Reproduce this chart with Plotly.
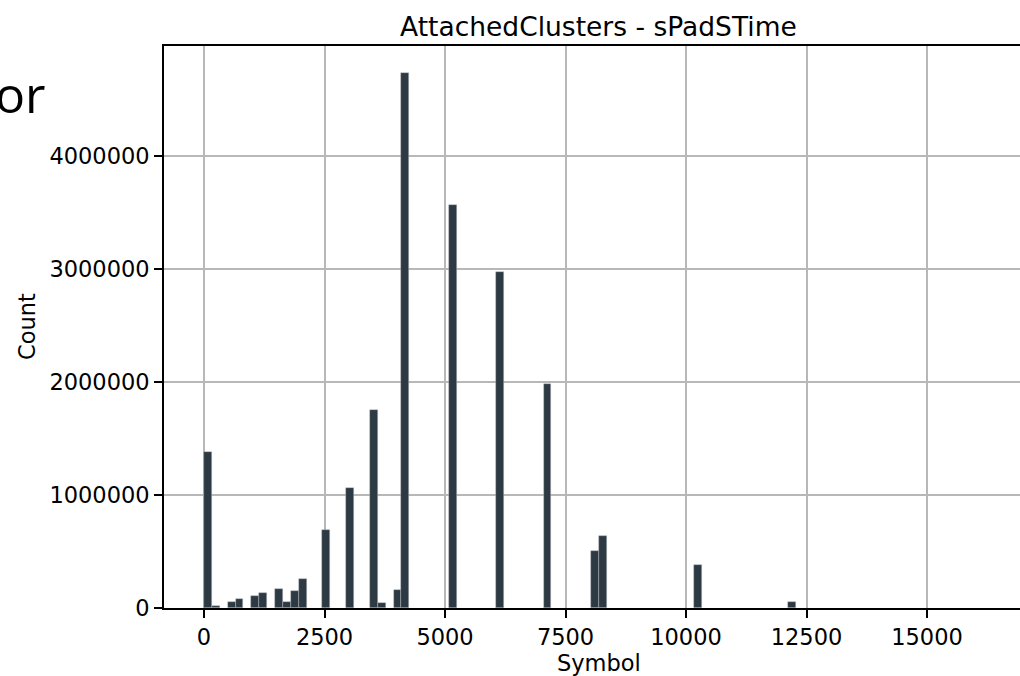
import plotly.graph_objects as go

# ---- data ----
bin_width = 163.84          # 100 bins over 0..16384
bin_index = [0, 1, 3, 4, 6, 7, 9, 10, 11, 12, 15, 18, 21, 22, 24, 25, 31, 37, 43, 49, 50, 62, 74]
counts = [1383000, 20000, 53000, 80000, 106000, 130000, 165000, 53000, 153000, 254000,
          688000, 1065000, 1750000, 42000, 162000, 4735000, 3570000, 2975000, 1985000,
          502000, 641000, 381000, 53000]
x_ticks = [0, 2500, 5000, 7500, 10000, 12500, 15000]
y_ticks = [0, 1000000, 2000000, 3000000, 4000000]

title_text = "AttachedClusters - sPadSTime"
x_label = "Symbol"
y_label = "Count"

bin_left = [i * bin_width for i in bin_index]

FONT = "DejaVu Sans"
fig = go.Figure()
fig.add_trace(go.Bar(
    x=bin_left, y=counts, width=bin_width, offset=0,
    marker=dict(color="#2d3a43", line=dict(color="rgba(190,195,200,0.7)", width=0.6)),
    hoverinfo="x+y",
))

fig.update_layout(
    width=1020, height=676,
    margin=dict(l=164, r=0, t=46, b=68),
    paper_bgcolor="white", plot_bgcolor="white",
    showlegend=False,
    font=dict(family=FONT, size=22.5, color="black"),
    bargap=0,
)
fig.update_xaxes(
    range=[-830, 16929], tickvals=x_ticks, tickformat="d",
    showgrid=True, gridcolor="#b8b8b8", gridwidth=1.6,
    showline=True, linecolor="black", linewidth=1.8, mirror=True,
    ticks="outside", ticklen=8, tickwidth=1.6, tickcolor="black",
    zeroline=False, tickfont=dict(family=FONT, size=22.5),
)
fig.update_yaxes(
    range=[0, 4973000], tickvals=y_ticks, tickformat="d",
    showgrid=True, gridcolor="#b8b8b8", gridwidth=1.6,
    showline=True, linecolor="black", linewidth=1.8, mirror=False,
    ticks="outside", ticklen=8, tickwidth=1.6, tickcolor="black",
    zeroline=False, tickfont=dict(family=FONT, size=22.5),
)

# title and axis labels
fig.add_annotation(text=title_text, xref="paper", yref="paper", x=0.5, xshift=6.5,
                   y=1, yshift=20, yanchor="middle", xanchor="center", showarrow=False,
                   font=dict(family=FONT, size=26.5, color="black"))
fig.add_annotation(text=x_label, xref="paper", yref="paper", x=0.5, xshift=6.5,
                   y=0, yshift=-55, yanchor="middle", xanchor="center", showarrow=False,
                   font=dict(family=FONT, size=22.5, color="black"))
fig.add_annotation(text=y_label, xref="paper", yref="paper", x=0, xshift=-137,
                   y=0.5, yanchor="middle", xanchor="center", textangle=-90, showarrow=False,
                   font=dict(family=FONT, size=22.5, color="black"))
# cropped slide text at top-left
fig.add_annotation(text="or", xref="paper", yref="paper", x=0, xshift=-171,
                   y=1, yshift=-48, yanchor="middle", xanchor="left", showarrow=False,
                   font=dict(family="Open Sans", size=50, color="black"))

fig.write_html("out.html", config={"displayModeBar": False},
               post_script="document.body.style.margin='0';")
